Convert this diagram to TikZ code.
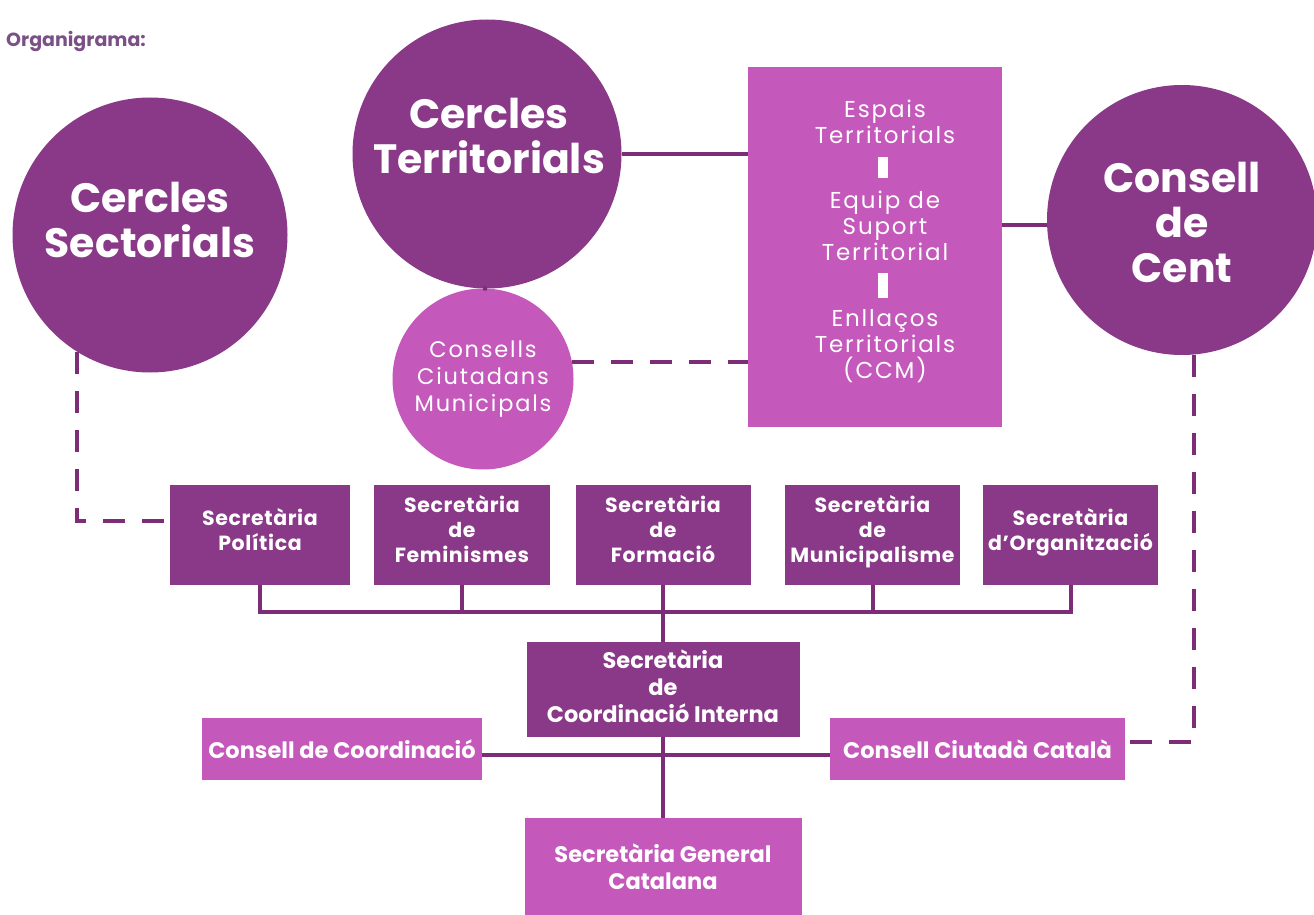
\documentclass[tikz,border=0pt]{standalone}
\usepackage{fontspec}
\setmainfont{Poppins}
\newfontfamily\wide{Poppins}[LetterSpace=8]
\newfontfamily\wideb{Poppins}[LetterSpace=3]
\usetikzlibrary{calc}
\definecolor{dpurple}{RGB}{138,56,136}
\definecolor{lmag}{RGB}{196,88,187}
\definecolor{linec}{RGB}{125,45,120}
\definecolor{titlec}{RGB}{123,80,135}
\begin{document}
\begin{tikzpicture}[x=1pt,y=-1pt,
  bigc/.style={circle, fill=dpurple, draw=none, minimum size=#1, inner sep=0pt},
  smallc/.style={circle, fill=lmag, draw=none, minimum size=#1, inner sep=0pt, text=white,
     align=center, font=\wide\fontsize{22.5}{27}\selectfont},
  bigtext/.style={text=white, align=center, font=\bfseries\fontsize{41}{45}\selectfont},
  esptext/.style={text=white, align=center, font=\wide\fontsize{23}{26}\selectfont},
  darkbox/.style={fill=dpurple, draw=none, text=white, align=center, inner sep=0pt,
     font=\wideb\bfseries\fontsize{20.5}{25}\selectfont},
  lowbox/.style={draw=none, text=white, align=center, inner sep=0pt,
     font=\bfseries\fontsize{22.5}{27}\selectfont},
  conn/.style={draw=linec, line width=4pt},
  dconn/.style={draw=linec, line width=4pt, dash pattern=on 22pt off 17pt},
]
\clip (0,0) rectangle (1314,915);
\fill[white] (0,0) rectangle (1314,915);

% title
\node[anchor=base west, inner sep=0pt, text=titlec, font=\bfseries\fontsize{19}{22}\selectfont] (title) at (6,47) {Organigrama:};

% circles
\node[bigc=275] (cs) at (150,235) {};
\node[bigtext] (cst) at (150,220) {Cercles\\Sectorials};
\node[bigc=269] (ct) at (487,154) {};
\node[bigtext] (ctt) at (489,136) {Cercles\\Territorials};
\node[bigc=270] (cdc) at (1182,220) {};
\node[bigtext] (cdct) at (1182,222) {Consell\\de\\Cent};
\node[smallc=181] (ccm) at (483,379) {Consells\\Ciutadans\\Municipals};

% Espais box
\node[fill=lmag, draw=none, minimum width=254, minimum height=360, inner sep=0pt] (esp) at (875,247) {};
\node[esptext] (e1) at (885,122) {Espais\\Territorials};
\node[esptext] (e2) at (885,226) {Equip de\\Suport\\Territorial};
\node[esptext] (e3) at (885,346) {Enllaços\\Territorials\\(CCM)};
\fill[white] (878,157) rectangle (888,178);
\fill[white] (878,273) rectangle (888,298);

% secretaries row
\tikzset{rowbox/.style={darkbox, minimum height=100, text depth=12pt}}
\node[rowbox, minimum width=180] (pol) at (260,535) {Secretària\\Política};
\node[rowbox, minimum width=176] (fem) at (462,535) {Secretària\\de\\Feminismes};
\node[rowbox, minimum width=175] (for) at (663,535) {Secretària\\de\\Formació};
\node[rowbox, minimum width=175] (mun) at (872.5,535) {Secretària\\de\\Municipalisme};
\node[rowbox, minimum width=175] (org) at (1070.5,535) {Secretària\\d’Organització};

% lower boxes
\node[lowbox, fill=dpurple, minimum width=273, minimum height=95, text depth=6pt] (coi) at (663,689.5) {Secretària\\de\\Coordinació Interna};
\node[lowbox, fill=lmag, minimum width=280, minimum height=62] (cco) at (342,749) {Consell de Coordinació};
\node[lowbox, fill=lmag, minimum width=295, minimum height=62] (cca) at (977.5,749) {Consell Ciutadà Català};
\node[lowbox, fill=lmag, minimum width=277, minimum height=97] (sgc) at (663,866.5) {Secretària General\\Catalana};

% coordinates for connector levels
\coordinate (bus) at (0,612);
\coordinate (hl) at (0,755);
\coordinate (dl) at (0,521);
\coordinate (dr) at (0,742);

% solid connectors
\draw[conn] (ct.east) -- (ct.east -| esp.west);
\draw[conn] (ct.south) -- (ccm.north);
\draw[conn] (cdc.182) -- (cdc.182 -| esp.east);
\foreach \n in {pol,fem,for,mun,org}{
  \draw[conn] (\n.south) -- (\n.south |- bus);
}
\draw[conn] ([xshift=-2pt]pol.south |- bus) -- ([xshift=2pt]org.south |- bus);
\draw[conn] (for.south |- bus) -- (coi.north);
\draw[conn] (coi.south) -- (sgc.north);
\draw[conn] (cco.east |- hl) -- (cca.west |- hl);

% dashed connectors
\draw[dconn] (cs.238) |- (pol.west |- dl);
\draw[dconn] (ccm.11) -- (ccm.11 -| esp.west);
\draw[dconn] (cdc.275) |- (cca.east |- dr);
\end{tikzpicture}
\end{document}
